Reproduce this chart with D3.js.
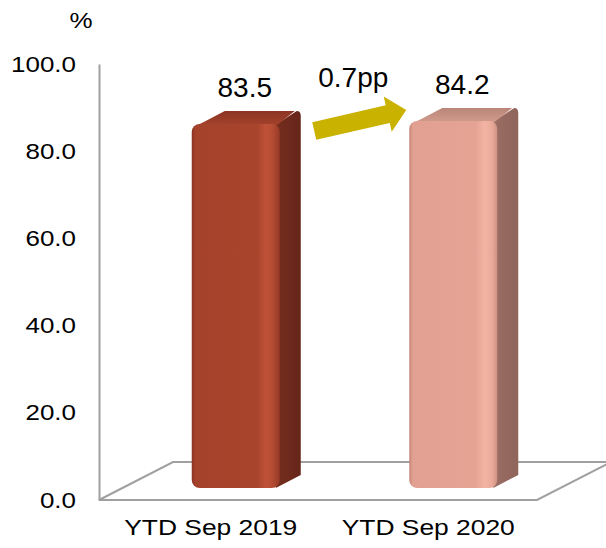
<!DOCTYPE html>
<html>
<head>
<meta charset="utf-8">
<script src="https://cdn.jsdelivr.net/npm/d3@7"></script>
<style>
  html, body { margin: 0; padding: 0; background: #ffffff; }
  svg { display: block; font-family: "Liberation Sans", Arial, sans-serif; }
</style>
</head>
<body>
<svg id="chart" width="606" height="548"></svg>
<script>
// Share of total (%), year to date
const categories = ["YTD Sep 2019", "YTD Sep 2020"];
const values = [83.5, 84.2];
const yTicks = [0, 20, 40, 60, 80, 100];
const unitLabel = "%";
const changeLabel = "0.7pp";

// Face colours per bar: front gradient stops, side and top
const frontStops = [
  [["0%", "#8a3222"], ["4%", "#a5422b"], ["74%", "#a8442c"], ["84%", "#bf5239"], ["91%", "#b64d34"], ["100%", "#973a27"]],
  [["0%", "#c48576"], ["4%", "#e2a092"], ["76%", "#e5a394"], ["86%", "#f4b5a5"], ["94%", "#eaa999"], ["100%", "#cf9283"]]
];
const sideColors = [["#772e1e", "#66261a"], ["#9d6f65", "#8f645b"]];
const topColors = [["#8d3523", "#a9462f"], ["#b98679", "#d9a192"]];

const svg = d3.select("#chart");
const defs = svg.append("defs");

// Oblique projection of the 3-D floor
const floorFront = 500, floorLeft = 99, floorRight = 537;
const depthX = 74, depthY = -38;       // full floor depth
const barShiftX = 23, barShiftY = -12; // bars sit this far into the floor
const barDx = 21, barDy = -13;         // bar thickness
const barWidth = 88;
const textStretch = 1.18;

const y = d3.scaleLinear().domain([0, 100]).range([floorFront, 64]);
const x = d3.scalePoint().domain(categories).range([127, 562]).padding(0.5);

// Floor
svg.append("polygon")
  .attr("points", [
    [floorLeft, floorFront], [floorRight, floorFront],
    [floorRight + depthX, floorFront + depthY], [floorLeft + depthX, floorFront + depthY]
  ].map(p => p.join(",")).join(" "))
  .attr("fill", "none")
  .attr("stroke", "#a0a0a0")
  .attr("stroke-width", 2);

// Value axis
const axis = svg.append("g")
  .attr("transform", `translate(${floorLeft},0)`)
  .call(d3.axisLeft(y).tickValues(yTicks).tickFormat(d3.format(".1f")).tickSize(0).tickPadding(23 / textStretch));
axis.select(".domain").attr("stroke", "#a0a0a0").attr("stroke-width", 2);
axis.selectAll(".tick text")
  .attr("font-size", 22)
  .attr("fill", "#000")
  .attr("font-family", "Liberation Sans, Arial, sans-serif")
  .attr("transform", `scale(${textStretch},1)`);

// Unit label
svg.append("text")
  .attr("transform", `translate(81,28) scale(${textStretch},1)`)
  .attr("text-anchor", "middle")
  .attr("font-size", 22)
  .text(unitLabel);

// Bars
const bars = categories.map((c, i) => {
  const cx = x(c);
  const xL = cx - barWidth / 2, xR = cx + barWidth / 2;
  const yT = y(values[i]) + barShiftY, yB = y(0) + barShiftY;
  return { c, i, v: values[i], cx, xL, xR, yT, yB };
});

bars.forEach(b => {
  const fg = defs.append("linearGradient").attr("id", `front${b.i}`)
    .attr("x1", "0").attr("x2", "1").attr("y1", "0").attr("y2", "0");
  frontStops[b.i].forEach(([o, col]) => fg.append("stop").attr("offset", o).attr("stop-color", col));

  const sg = defs.append("linearGradient").attr("id", `side${b.i}`)
    .attr("x1", "0").attr("x2", "1").attr("y1", "0").attr("y2", "0");
  sg.append("stop").attr("offset", "0%").attr("stop-color", sideColors[b.i][0]);
  sg.append("stop").attr("offset", "100%").attr("stop-color", sideColors[b.i][1]);

  const tg = defs.append("linearGradient").attr("id", `top${b.i}`)
    .attr("x1", "0").attr("x2", "0").attr("y1", "0").attr("y2", "1");
  tg.append("stop").attr("offset", "0%").attr("stop-color", topColors[b.i][0]);
  tg.append("stop").attr("offset", "100%").attr("stop-color", topColors[b.i][1]);

  const g = svg.append("g");

  // side face
  g.append("path")
    .attr("d", `M${b.xR - 6},${b.yT + 2} L${b.xR + barDx - 4},${b.yT + barDy} Q${b.xR + barDx},${b.yT + barDy} ${b.xR + barDx},${b.yT + barDy + 5}
                L${b.xR + barDx},${b.yB + barDy} L${b.xR - 4},${b.yB} Z`)
    .attr("fill", `url(#side${b.i})`);

  // top face
  g.append("path")
    .attr("d", `M${b.xL + 2},${b.yT + 6} Q${b.xL + 4},${b.yT + 1} ${b.xL + 12},${b.yT - 2}
                L${b.xL + barDx + 12},${b.yT + barDy} L${b.xR + barDx - 6},${b.yT + barDy}
                L${b.xR - 4},${b.yT + 2} Z`)
    .attr("fill", `url(#top${b.i})`);

  // front face
  g.append("rect")
    .attr("x", b.xL).attr("y", b.yT)
    .attr("width", barWidth).attr("height", b.yB - b.yT)
    .attr("rx", 8).attr("ry", 8)
    .attr("fill", `url(#front${b.i})`);

  // value label
  g.append("text")
    .attr("x", b.cx + 9)
    .attr("y", b.yT - 37)
    .attr("dy", "0.36em")
    .attr("text-anchor", "middle")
    .attr("font-size", 28)
    .text(d3.format(".1f")(b.v));
});

// Category labels on the front edge of the floor
bars.forEach(b => {
  svg.append("text")
    .attr("transform", `translate(${b.cx - 25},535) scale(${textStretch + 0.02},1)`)
    .attr("text-anchor", "middle")
    .attr("font-size", 22)
    .text(b.c);
});

// Change arrow between the two bars
const [b0, b1] = bars;
const tail = [b0.xR + barDx + 13.5, b0.yT + 7];
const tip = [b1.xL - 3, b1.yT - 11];
const len = Math.hypot(tip[0] - tail[0], tip[1] - tail[1]);
const ang = Math.atan2(tip[1] - tail[1], tip[0] - tail[0]) * 180 / Math.PI;
const shaftHalf = 9, headLen = 19, headHalf = 18;
const arrow = svg.append("g")
  .attr("transform", `translate(${tail[0]},${tail[1]}) rotate(${ang})`);
arrow.append("polygon")
  .attr("points", [
    [0, -shaftHalf], [len - headLen, -shaftHalf], [len - headLen, -headHalf],
    [len, 0], [len - headLen, headHalf], [len - headLen, shaftHalf], [0, shaftHalf]
  ].map(p => p.join(",")).join(" "))
  .attr("fill", "#c9b200");

svg.append("text")
  .attr("x", (tail[0] + tip[0]) / 2 - 7)
  .attr("y", (tail[1] + tip[1]) / 2 - 43)
  .attr("dy", "0.36em")
  .attr("text-anchor", "middle")
  .attr("font-size", 28)
  .text(changeLabel);
</script>
</body>
</html>
